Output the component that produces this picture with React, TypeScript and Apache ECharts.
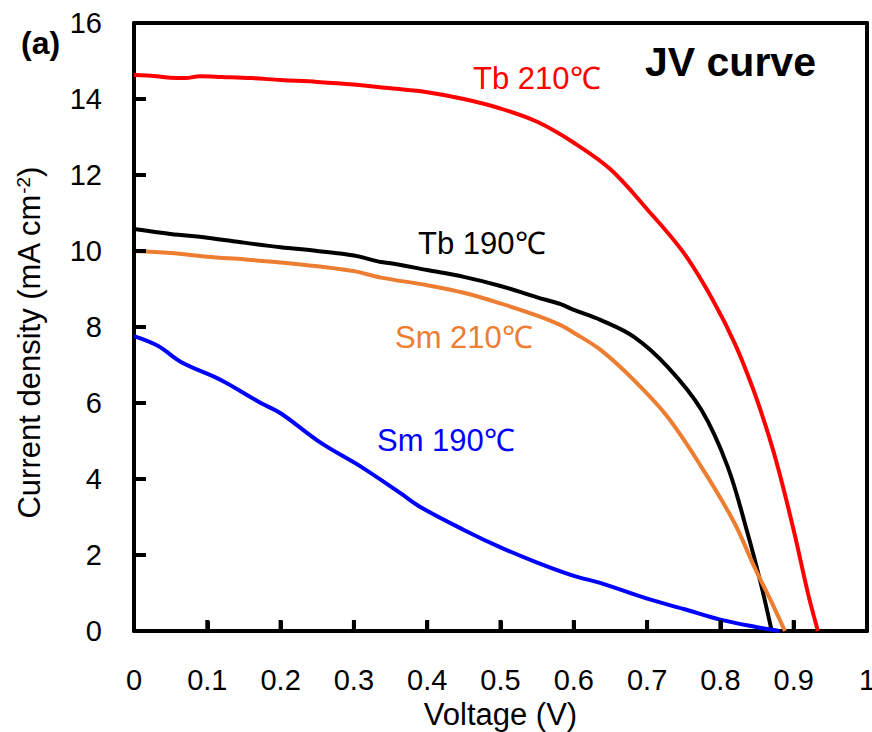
import React, { useEffect, useRef } from "react";
import * as echarts from "echarts";

// Voltage (V) / current density (mA cm-2) pairs
const tb210V = [0, 0.03, 0.05, 0.07, 0.09, 0.12, 0.16, 0.2, 0.25, 0.3, 0.35, 0.4, 0.45, 0.5, 0.55, 0.6, 0.65, 0.7, 0.75, 0.79, 0.82, 0.845, 0.865, 0.88, 0.9, 0.92, 0.933];
const tb210J = [14.63, 14.6, 14.56, 14.55, 14.6, 14.58, 14.55, 14.5, 14.45, 14.38, 14.28, 14.18, 14.0, 13.75, 13.4, 12.85, 12.15, 11.1, 9.95, 8.7, 7.55, 6.35, 5.2, 4.2, 2.65, 0.95, 0];

const tb190V = [0, 0.05, 0.1, 0.15, 0.2, 0.25, 0.3, 0.337, 0.35, 0.4, 0.45, 0.5, 0.55, 0.582, 0.6, 0.637, 0.682, 0.728, 0.774, 0.81, 0.837, 0.855, 0.87];
const tb190J = [10.58, 10.45, 10.35, 10.22, 10.1, 10.0, 9.88, 9.71, 9.68, 9.5, 9.32, 9.08, 8.78, 8.6, 8.45, 8.18, 7.74, 6.95, 5.82, 4.32, 2.58, 1.26, 0];

const sm210V = [0, 0.05, 0.1, 0.15, 0.2, 0.25, 0.3, 0.337, 0.4, 0.45, 0.5, 0.55, 0.582, 0.6, 0.637, 0.682, 0.728, 0.774, 0.819, 0.846, 0.873, 0.888];
const sm210J = [10.0, 9.95, 9.85, 9.78, 9.7, 9.6, 9.47, 9.3, 9.1, 8.9, 8.62, 8.3, 8.05, 7.85, 7.39, 6.6, 5.63, 4.32, 2.85, 1.7, 0.63, 0];

const sm190V = [0, 0.033, 0.064, 0.119, 0.173, 0.2, 0.255, 0.31, 0.364, 0.39, 0.45, 0.5, 0.55, 0.6, 0.637, 0.7, 0.75, 0.8, 0.85, 0.88];
const sm190J = [7.76, 7.5, 7.08, 6.6, 6.0, 5.73, 4.95, 4.32, 3.62, 3.27, 2.66, 2.2, 1.8, 1.45, 1.26, 0.85, 0.58, 0.3, 0.1, 0];

// inner tick positions
const xTickValues = [0.1, 0.2, 0.3, 0.4, 0.5, 0.6, 0.7, 0.8, 0.9];
const yTickValues = [2, 4, 6, 8, 10, 12, 14];

const seriesNames = ["Tb 210℃", "Tb 190℃", "Sm 210℃", "Sm 190℃"];
const seriesColors = ["#FF0000", "#000000", "#ED7D31", "#0000FF"];

const FONT = "'Liberation Sans', Arial, sans-serif";

const W = 872;
const H = 732;
const GRID = { left: 134, right: 5, top: 23, bottom: 101 };

function pairs(v: number[], j: number[]) {
  return v.map((x, i) => [x, j[i]]);
}

export default function App() {
  const ref = useRef<HTMLDivElement>(null);
  useEffect(() => {
    if (!ref.current) return;
    const chart = echarts.init(ref.current, undefined, { renderer: "svg" });
    const data = [pairs(tb210V, tb210J), pairs(tb190V, tb190J), pairs(sm210V, sm210J), pairs(sm190V, sm190J)];
    const labelPos = [
      [473, 78],
      [418, 243],
      [395, 337],
      [377, 440],
    ];
    const mkFrame = () => ({ show: true, onZero: false, lineStyle: { color: "#000", width: 4 } });
    const tickRects = (vals: number[][], horizontal: boolean) => ({
      type: "custom",
      silent: true,
      clip: false,
      z: 10,
      data: vals,
      renderItem: (_p: any, api: any) => {
        const pt = api.coord([api.value(0), api.value(1)]);
        return {
          type: "rect",
          shape: horizontal
            ? { x: pt[0], y: pt[1] - 2, width: 12, height: 4 }
            : { x: pt[0] - 2, y: pt[1] - 11, width: 4, height: 11 },
          style: { fill: "#000" },
        };
      },
    });
    chart.setOption({
      animation: false,
      grid: { ...GRID, outerBoundsMode: "none" },
      xAxis: [
        {
          type: "value",
          min: 0,
          max: 1,
          interval: 0.1,
          name: "Voltage (V)",
          nameLocation: "middle",
          nameGap: 66,
          nameTextStyle: { fontFamily: FONT, fontSize: 31, color: "#000" },
          axisLine: mkFrame(),
          axisTick: { show: true, inside: true, length: 10, lineStyle: { color: "#000", width: 4 } },
          axisLabel: { fontFamily: FONT, fontSize: 29, color: "#000", margin: 34 },
          splitLine: { show: false },
        },
        {
          type: "value",
          position: "top",
          min: 0,
          max: 1,
          interval: 0.1,
          axisLine: mkFrame(),
          axisTick: { show: false },
          axisLabel: { show: false },
          splitLine: { show: false },
        },
      ],
      yAxis: [
        {
          type: "value",
          min: 0,
          max: 16,
          interval: 2,
          axisLine: mkFrame(),
          axisTick: { show: true, inside: true, length: 11, lineStyle: { color: "#000", width: 4 } },
          axisLabel: { fontFamily: FONT, fontSize: 29, color: "#000", margin: 32 },
          splitLine: { show: false },
        },
        {
          type: "value",
          position: "right",
          min: 0,
          max: 16,
          interval: 2,
          axisLine: mkFrame(),
          axisTick: { show: false },
          axisLabel: { show: false },
          splitLine: { show: false },
        },
      ],
      series: [
        ...data.map((d, i) => ({
          type: "line",
          name: seriesNames[i],
          data: d,
          showSymbol: false,
          smooth: 0.35,
          lineStyle: { color: seriesColors[i], width: 4 },
          itemStyle: { color: seriesColors[i] },
        })),
        tickRects(xTickValues.map((v) => [v, 0]), false),
        tickRects(yTickValues.map((v) => [0, v]), true),
      ],
      graphic: [
        {
          type: "text",
          x: 29,
          y: 343,
          rotation: Math.PI / 2,
          style: {
            text: "Current density (mA cm{sup|-2})",
            fill: "#000",
            fontSize: 31,
            fontFamily: FONT,
            textAlign: "center",
            textVerticalAlign: "middle",
            rich: {
              sup: { fontSize: 19, fontFamily: FONT, fill: "#000", verticalAlign: "top", lineHeight: 20 },
            },
          },
        },
        ...seriesNames.map((n, i) => ({
          type: "text",
          x: labelPos[i][0],
          y: labelPos[i][1],
          style: {
            text: n,
            fill: seriesColors[i],
            font: `31px ${FONT}`,
            textAlign: "left",
            textVerticalAlign: "middle",
          },
        })),
        {
          type: "text",
          x: 645,
          y: 62,
          style: {
            text: "JV curve",
            fill: "#000",
            font: `bold 41px ${FONT}`,
            textAlign: "left",
            textVerticalAlign: "middle",
          },
        },
        {
          type: "text",
          x: 21,
          y: 43,
          style: {
            text: "(a)",
            fill: "#000",
            font: `bold 32px ${FONT}`,
            textAlign: "left",
            textVerticalAlign: "middle",
          },
        },
      ],
    });
    return () => chart.dispose();
  }, []);
  return (
    <div
      ref={ref}
      style={{ position: "fixed", left: 0, top: 0, width: W, height: H, background: "#fff" }}
    />
  );
}
